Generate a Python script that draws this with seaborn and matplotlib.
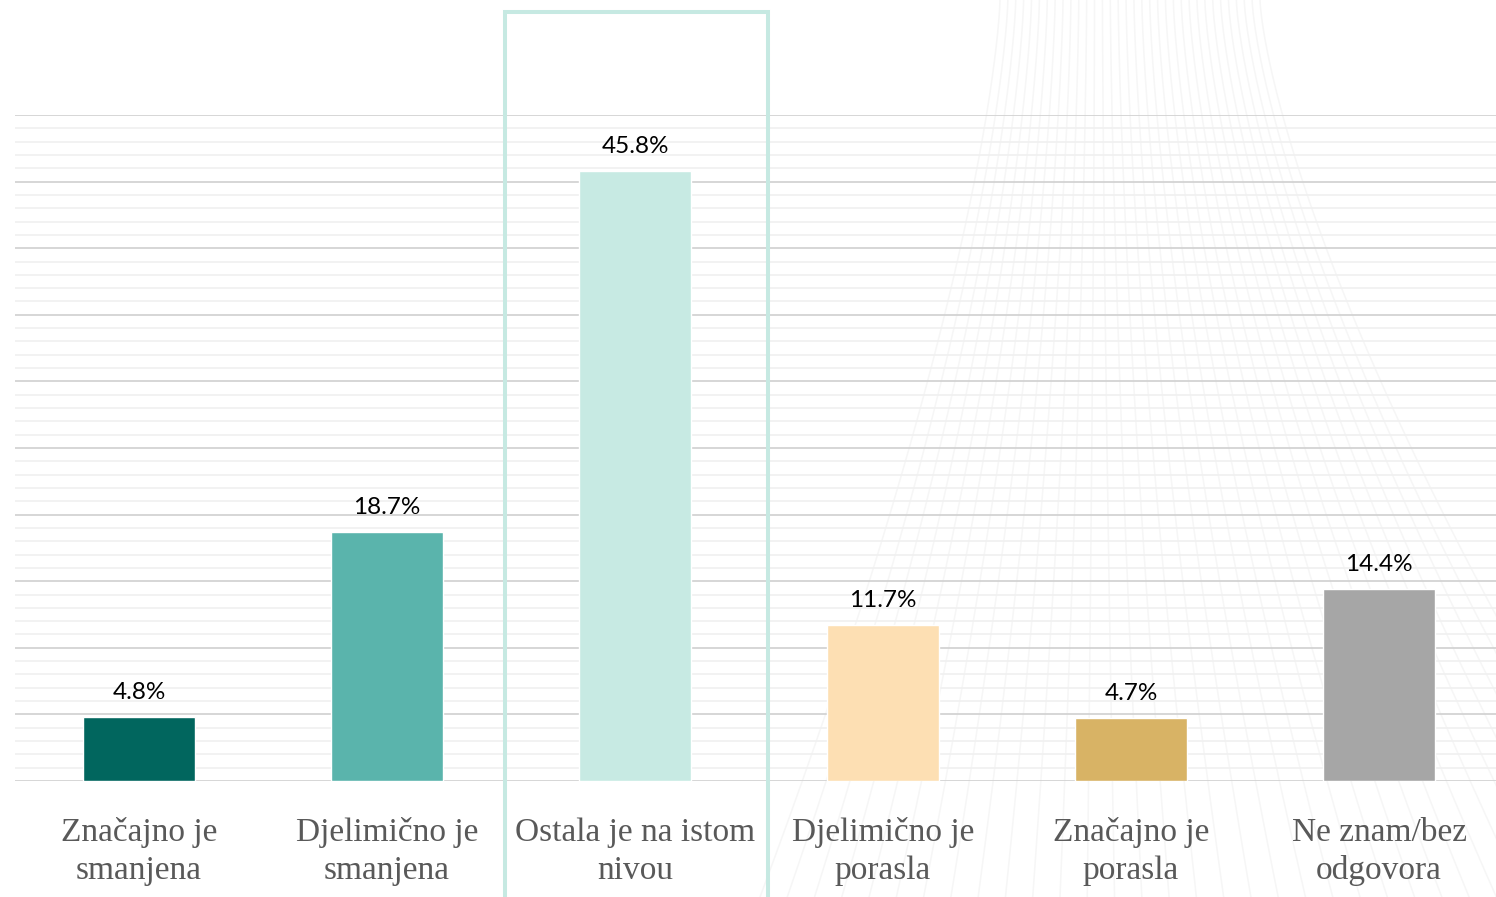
import numpy as np
import matplotlib
matplotlib.use("Agg")
import matplotlib.pyplot as plt
import seaborn as sns
from matplotlib.patches import Rectangle

categories = ["Značajno je\nsmanjena", "Djelimično je\nsmanjena", "Ostala je na istom\nnivou",
              "Djelimično je\nporasla", "Značajno je\nporasla", "Ne znam/bez\nodgovora"]
values = [4.8, 18.7, 45.8, 11.7, 4.7, 14.4]
colors = ["#01665e", "#5ab4ac", "#c7eae3", "#fddfb3", "#d8b365", "#a6a6a6"]
highlight_index = 2

sns.set_theme(style="white")
plt.rcParams['font.family'] = ['Lato', 'DejaVu Sans']

fig = plt.figure(figsize=(14.96, 8.97), dpi=100)
fig.patch.set_facecolor("white")

# faint decorative background fan of curves (right side)
bg = fig.add_axes([0, 0, 1, 1], zorder=-5)
bg.set_xlim(0, 1496)
bg.set_ylim(897, 0)
bg.axis("off")
t = np.linspace(0, 1, 200)
for k in np.linspace(0, 1, 34):
    x_top = 1000 + 260 * k
    x_bot = 760 + 900 * k
    yy = t * 897
    xx = x_top + (x_bot - x_top) * (t ** 1.4)
    bg.plot(xx, yy, color="#f6f6f6", lw=1.1, zorder=-5)

ax = fig.add_axes([15 / 1496, (897 - 781) / 897, 1488 / 1496, 666 / 897])
ax.patch.set_alpha(0)

sns.barplot(x=list(range(len(values))), y=values, hue=list(range(len(values))),
            palette=colors, width=0.452, legend=False, ax=ax, saturation=1, zorder=3)

ax.set_xlim(-0.5, 5.5)
ax.set_ylim(0, 50)
ax.set_yticks(np.arange(0, 51, 5))
ax.set_yticks(np.arange(0, 51, 1), minor=True)
ax.grid(axis="y", which="minor", color="#f0f0f0", lw=1.2, zorder=0)
ax.grid(axis="y", which="major", color="#d6d6d6", lw=1.4, zorder=1)
ax.tick_params(axis="y", which="both", left=False, labelleft=False)
for s in ax.spines.values():
    s.set_visible(False)

ax.set_xticks(range(len(categories)))
ax.set_xticklabels(categories, fontfamily=["Liberation Serif", "DejaVu Serif"],
                   fontsize=24, color="#595959", linespacing=1.32)
ax.tick_params(axis="x", length=0, pad=26)
ax.set_xlabel("")
ax.set_ylabel("")

for i, v in enumerate(values):
    ax.annotate(f"{v:.1f}%", (i, v), xytext=(0, 13), textcoords="offset points",
                ha="center", va="baseline", fontsize=17.5, color="#000000", zorder=5)

rect = Rectangle((highlight_index - 0.524, -12), 1.06, 57.73 + 12, fill=False,
                 edgecolor="#c6e9e2", lw=2.9, clip_on=False, zorder=6)
ax.add_patch(rect)

fig.savefig("out.png", dpi=100, facecolor="white")
